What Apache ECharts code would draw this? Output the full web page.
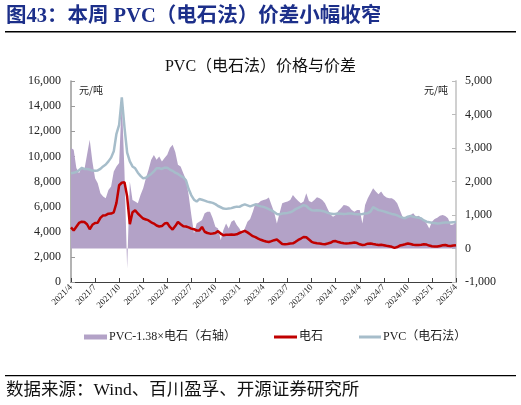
<!DOCTYPE html>
<html><head><meta charset="utf-8">
<script src="https://cdn.jsdelivr.net/npm/echarts@6/dist/echarts.min.js"></script>
<style>html,body{margin:0;padding:0;background:#fff}#c{width:521px;height:405px}</style>
</head><body><div id="c"></div>
<script>
// categories: 3 points per month (day 1, 11, 21) from 2021/4/1 to 2025/4/1
const startYear = 2021, startMonth = 4, sampleDays = [1, 11, 21], pointCount = 145;
const tickLabels = ['2021/4','2021/7','2021/10','2022/1','2022/4','2022/7','2022/10','2023/1','2023/4','2023/7','2023/10','2024/1','2024/4','2024/7','2024/10','2025/1','2025/4'];

const pvc = [
 8650,8700,8750, 8900,9080,9000, 9000,8950,8870,
 8850,8880,9000, 9200,9350,9600, 9900,10400,11800,
 12500,14700,12300, 10300,9600,9200, 9050,8700,8450,
 8250,8300,8450, 8600,8800,9050, 9050,9000,9100,
 9100,8950,8850, 8700,8600,8450, 8330,8100,7400,
 6900,6550,6400, 6600,6550,6480, 6400,6350,6300,
 6200,6050,5950, 5850,5820,5850, 5880,5950,6000,
 5980,6100,6180, 6100,6020,6100, 6180,6080,6020,
 5980,5900,5800, 5700,5570,5420, 5380,5450,5480,
 5500,5550,5650, 5800,5900,6000, 6120,6050,5850,
 5720,5700,5720, 5700,5650,5600, 5500,5450,5420,
 5430,5450,5440, 5420,5430,5450, 5450,5420,5400,
 5400,5420,5450, 5480,5600,5950, 5850,5720,5680,
 5620,5550,5480, 5420,5380,5300, 5200,5120,5080,
 5200,5260,5200, 5150,5120,5050, 4900,4800,4760,
 4720,4700,4660, 4680,4720,4740, 4740,4730,4760,
 4780
];
const carbide = [
 4350,4100,4400, 4700,4800,4780, 4600,4200,4550,
 4700,4720,5100, 5300,5320,5440, 5450,5550,6300,
 7700,7900,7950, 6800,4600,5550, 5700,5450,5250,
 5050,4980,4900, 4750,4650,4500, 4420,4450,4650,
 4700,4380,4170, 4450,4780,4600, 4430,4420,4350,
 4250,4200,4100, 4100,4380,4000, 3900,3850,3860,
 3900,4050,3850, 3720,3760,3770, 3780,3770,3800,
 3900,3990,4070, 3950,3800,3650, 3570,3450,3360,
 3280,3220,3190, 3250,3330,3380, 3200,3020,3000,
 3020,3060,3080, 3200,3350,3460, 3580,3560,3380,
 3200,3120,3080, 3060,3030,3010, 3060,3120,3240,
 3260,3180,3120, 3080,3060,3080, 3110,3140,3100,
 3000,2950,2970, 3050,3070,3020, 2980,2950,2960,
 2920,2880,2850, 2800,2720,2780, 2900,2950,3000,
 3060,3020,2960, 2940,2950,2960, 3000,2980,2900,
 2850,2830,2820, 2870,2920,2940, 2880,2860,2900,
 2930
];
const spread = [
 3000,2950,2400, 2250,2450,2350, 2800,3250,2600,
 2100,1950,1650, 1550,1500,1750, 1850,2300,2450,
 2550,4450,2300, -600,2000,1450, 1400,1350,1600,
 1800,2100,2350, 2650,2790,2650, 2750,2600,2700,
 2800,3000,3100, 2880,2500,2450, 2250,2050,1600,
 1000,450,750, 800,850,1050, 1100,1100,900,
 650,600,250, 550,750,600, 800,850,700,
 600,450,600, 800,880,1100, 1350,1350,1420,
 1450,1470,1520, 1300,1080,750, 1050,1350,1380,
 1400,1450,1600, 1500,1420,1350, 1400,1650,1420,
 1380,1450,1530, 1500,1450,1350, 1180,1020,950,
 1000,1130,1200, 1300,1280,1250, 1150,1100,1150,
 1150,750,1300, 1500,1650,1800, 1700,1620,1700,
 1580,1520,1500, 1500,1450,1350, 1150,950,900,
 950,1000,1050, 950,980,920, 850,750,600,
 800,880,920, 980,1000,970, 900,700,720,
 800
];

const categories = [];
for (let i = 0; i < pointCount; i++) {
  const mm = startMonth - 1 + Math.floor(i / 3);
  const y = startYear + Math.floor(mm / 12);
  const mo = mm % 12 + 1;
  categories.push(y + '/' + mo + '/' + sampleDays[i % 3]);
}
const tickEvery = 9;

const SERIF = "'Liberation Serif','Noto Sans CJK SC',serif";
const fmt = v => v.toLocaleString('en-US');

const chart = echarts.init(document.getElementById('c'));
chart.setOption({
  animation: false,
  backgroundColor: '#fff',
  grid: { left: 71, right: 65, top: 81, bottom: 123 },
  graphic: [
    { type: 'text', left: 6, top: 6, style: { text: '图43：本周 PVC（电石法）价差小幅收窄', font: "bold 20.5px 'Liberation Serif','Noto Sans CJK SC',serif", fill: '#1c2f8a' } },
    { type: 'rect', shape: { x: 5, y: 31, width: 511, height: 1.5 }, style: { fill: '#000' } },
    { type: 'text', left: 'center', top: 59, style: { text: 'PVC（电石法）价格与价差', font: "16px 'Liberation Serif','Noto Sans CJK SC',serif", fill: '#111' } },
    { type: 'text', left: 79, top: 85, style: { text: '元/吨', font: "10px 'Noto Sans CJK SC',sans-serif", fill: '#222' } },
    { type: 'text', left: 424, top: 85, style: { text: '元/吨', font: "10px 'Noto Sans CJK SC',sans-serif", fill: '#222' } },
    { type: 'rect', shape: { x: 5, y: 375, width: 511, height: 1.2 }, style: { fill: '#000' } },
    { type: 'text', left: 6, top: 382, style: { text: '数据来源：Wind、百川盈孚、开源证券研究所', font: "17.5px 'Liberation Serif','Noto Sans CJK SC',serif", fill: '#111' } }
  ],
  legend: [
    { data: ['PVC-1.38×电石（右轴）'], left: 79, top: 326, icon: 'rect', itemWidth: 23, itemHeight: 5,
      textStyle: { fontFamily: SERIF, fontSize: 12, color: '#222', padding: [0, 0, 0, -3] } },
    { data: ['电石'], left: 269, top: 326, icon: 'rect', itemWidth: 23, itemHeight: 3,
      textStyle: { fontFamily: SERIF, fontSize: 12, color: '#222', padding: [0, 0, 0, -3] } },
    { data: ['PVC（电石法）'], left: 354, top: 326, icon: 'rect', itemWidth: 22, itemHeight: 3,
      textStyle: { fontFamily: SERIF, fontSize: 12, color: '#222', padding: [0, 0, 0, -3] } }
  ],
  xAxis: {
    type: 'category', data: categories, boundaryGap: false,
    axisLine: { lineStyle: { color: '#404040', width: 1 } },
    axisTick: { inside: true, length: 4, interval: (i) => i % tickEvery === 0, lineStyle: { color: '#404040' } },
    axisLabel: {
      interval: (i) => i % tickEvery === 0, rotate: 45, fontSize: 9, fontFamily: SERIF, color: '#222', margin: 4,
      formatter: (v, i) => tickLabels[Math.round(i / tickEvery)] || ''
    },
    splitLine: { show: false }
  },
  yAxis: [
    { type: 'value', min: 0, max: 16000, interval: 2000,
      axisLine: { show: true, lineStyle: { color: '#9a9a9a', width: 1.5 } },
      axisTick: { show: true, inside: true, length: 4, lineStyle: { color: '#9a9a9a' } },
      axisLabel: { formatter: fmt, fontFamily: SERIF, fontSize: 12, color: '#222', margin: 10 },
      splitLine: { show: false } },
    { type: 'value', min: -1000, max: 5000, interval: 1000, position: 'right',
      axisLine: { show: true, lineStyle: { color: '#d0d0d0', width: 2 } },
      axisTick: { show: true, inside: true, length: 4, lineStyle: { color: '#bbbbbb' } },
      axisLabel: { formatter: fmt, fontFamily: SERIF, fontSize: 12, color: '#222', margin: 9 },
      splitLine: { show: false } }
  ],
  series: [
    { name: 'PVC-1.38×电石（右轴）', type: 'line', yAxisIndex: 1, data: spread, showSymbol: false,
      lineStyle: { width: 0 }, itemStyle: { color: '#b3a2c7' }, areaStyle: { color: '#b3a2c7', opacity: 1 }, z: 1 },
    { name: '电石', type: 'line', yAxisIndex: 0, data: carbide, showSymbol: false,
      lineStyle: { width: 2.5, color: '#c00000' }, itemStyle: { color: '#c00000' }, z: 3 },
    { name: 'PVC（电石法）', type: 'line', yAxisIndex: 0, data: pvc, showSymbol: false,
      lineStyle: { width: 2.5, color: '#a6bdca' }, itemStyle: { color: '#a6bdca' }, z: 4 }
  ]
});
</script>
</body></html>
